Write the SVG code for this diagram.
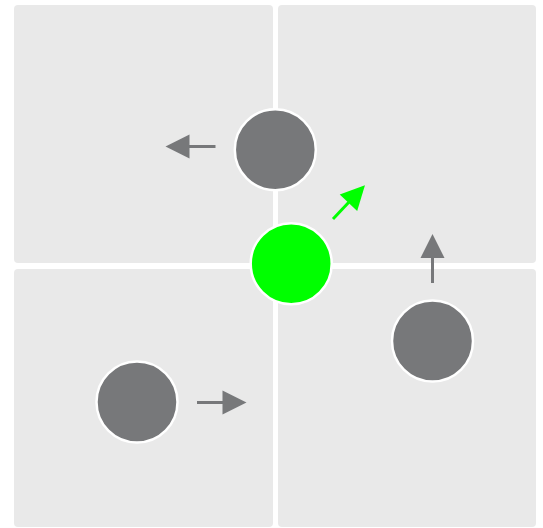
<svg xmlns="http://www.w3.org/2000/svg" width="543" height="528" viewBox="0 0 543 528">
<defs>
<style>
.quad{fill:#e9e9e9}
.ball{fill:#77787a;stroke:#ffffff;stroke-width:2.5}
.ball.active{fill:#00ff00}
.arr{stroke:#77787a;stroke-width:3;fill:none}
.arr.green{stroke:#00ff00}
</style>
<marker id="headGray" markerUnits="userSpaceOnUse" markerWidth="24" markerHeight="24" refX="0.5" refY="12" orient="auto" viewBox="0 0 24 24" overflow="visible">
<path d="M0,0 L24,12 L0,24 z" fill="#77787a"/>
</marker>
<marker id="headGreen" markerUnits="userSpaceOnUse" markerWidth="24" markerHeight="24" refX="0.5" refY="12" orient="auto" viewBox="0 0 24 24" overflow="visible">
<path d="M0,0 L24,12 L0,24 z" fill="#00ff00"/>
</marker>
</defs>
<rect width="543" height="528" fill="#ffffff"/>
<g id="quadrants">
<rect id="q-top-left" class="quad" x="14" y="5" width="259" height="258" rx="4"/>
<rect id="q-top-right" class="quad" x="278" y="5" width="258" height="258" rx="4"/>
<rect id="q-bottom-left" class="quad" x="14" y="269" width="259" height="258" rx="4"/>
<rect id="q-bottom-right" class="quad" x="278" y="269" width="258" height="258" rx="4"/>
</g>
<g id="connectors">
<line class="arr" x1="215.5" y1="146.5" x2="189" y2="146.5" marker-end="url(#headGray)"/>
<line class="arr" x1="197" y1="402.5" x2="223" y2="402.5" marker-end="url(#headGray)"/>
<line class="arr" x1="432.5" y1="283" x2="432.5" y2="257.5" marker-end="url(#headGray)"/>
<line class="arr green" x1="333" y1="219" x2="348.8" y2="202.3" marker-end="url(#headGreen)"/>
</g>
<g id="node-top"><circle class="ball" cx="275.3" cy="149.7" r="40.5"/></g>
<g id="node-green"><circle class="ball active" cx="291.2" cy="263.7" r="40.5"/></g>
<g id="node-right"><circle class="ball" cx="432.5" cy="341" r="40.5"/></g>
<g id="node-left"><circle class="ball" cx="137" cy="402" r="40.5"/></g>
</svg>
